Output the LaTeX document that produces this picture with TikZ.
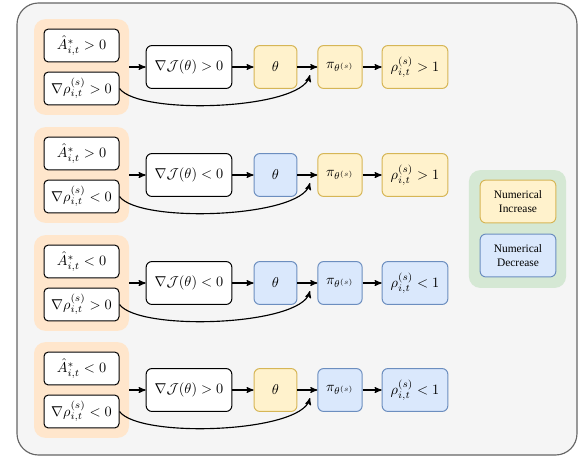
\documentclass[tikz,border=0pt]{standalone}
\usepackage{amssymb,amsmath}
\usepackage{fontspec}
\usepackage{tikz}
\usetikzlibrary{arrows,shapes}
\newfontfamily\legendfont{Liberation Serif}
\definecolor{outerfill}{HTML}{F5F5F5}
\definecolor{outerline}{HTML}{666666}
\definecolor{grpfill}{HTML}{FFE6CC}
\definecolor{incfill}{HTML}{FFF2CC}
\definecolor{incline}{HTML}{D6B656}
\definecolor{decfill}{HTML}{DAE8FC}
\definecolor{decline}{HTML}{6C8EBF}
\definecolor{legfill}{HTML}{D5E8D4}
\tikzstyle{group}=[rounded corners=8pt,fill=grpfill,minimum width=66.5pt,minimum height=67pt,inner sep=0pt]
\tikzstyle{cond}=[draw,rounded corners=3pt,fill=white,line width=0.7pt,minimum width=52.5pt,minimum height=23pt,inner sep=0pt]
\tikzstyle{grad}=[draw,rounded corners=4pt,fill=white,line width=0.7pt,minimum width=60pt,minimum height=30pt,inner sep=0pt]
\tikzstyle{inc}=[draw=incline,fill=incfill,rounded corners=4pt,line width=0.7pt,minimum height=30pt,inner sep=0pt]
\tikzstyle{dec}=[draw=decline,fill=decfill,rounded corners=4pt,line width=0.7pt,minimum height=30pt,inner sep=0pt]
\tikzstyle{edge} = [draw,line width=0.8pt,-stealth']

\begin{document}
\begin{tikzpicture}[x=0.7pt,y=-0.7pt]
        \useasboundingbox (0,0) rectangle (581,460);
        \filldraw[fill=outerfill,draw=outerline,line width=0.8pt,rounded corners=15pt] (17,3) rectangle (577,455);
        % row 1
        \node[group] (grp1) at (81.5,67) {};
        \node[cond] (A1) at (81.5,45.5) {$\hat{A}^{*}_{i,t}>0$};
        \node[cond] (rho1) at (81.5,88.5) {$\nabla\rho^{(s)}_{i,t}>0$};
        \node[grad] (J1) at (189,67) {$\nabla\mathcal{J}(\theta)>0$};
        \node[inc,minimum width=30pt] (theta1) at (275.5,67) {$\theta$};
        \node[inc,minimum width=31pt] (pi1) at (340,67) {$\pi_{\theta^{(s)}}$};
        \node[inc,minimum width=46pt] (ratio1) at (415,67) {$\rho^{(s)}_{i,t}>1$};
        \coordinate (m1) at (310,75);
        % row 2
        \node[group] (grp2) at (81.5,175) {};
        \node[cond] (A2) at (81.5,153.5) {$\hat{A}^{*}_{i,t}>0$};
        \node[cond] (rho2) at (81.5,196.5) {$\nabla\rho^{(s)}_{i,t}<0$};
        \node[grad] (J2) at (189,175) {$\nabla\mathcal{J}(\theta)<0$};
        \node[dec,minimum width=30pt] (theta2) at (275.5,175) {$\theta$};
        \node[inc,minimum width=31pt] (pi2) at (340,175) {$\pi_{\theta^{(s)}}$};
        \node[inc,minimum width=46pt] (ratio2) at (415,175) {$\rho^{(s)}_{i,t}>1$};
        \coordinate (m2) at (310,183);
        % row 3
        \node[group] (grp3) at (81.5,283) {};
        \node[cond] (A3) at (81.5,261.5) {$\hat{A}^{*}_{i,t}<0$};
        \node[cond] (rho3) at (81.5,304.5) {$\nabla\rho^{(s)}_{i,t}>0$};
        \node[grad] (J3) at (189,283) {$\nabla\mathcal{J}(\theta)<0$};
        \node[dec,minimum width=30pt] (theta3) at (275.5,283) {$\theta$};
        \node[dec,minimum width=31pt] (pi3) at (340,283) {$\pi_{\theta^{(s)}}$};
        \node[dec,minimum width=46pt] (ratio3) at (415,283) {$\rho^{(s)}_{i,t}<1$};
        \coordinate (m3) at (310,291);
        % row 4
        \node[group] (grp4) at (81.5,390) {};
        \node[cond] (A4) at (81.5,368.5) {$\hat{A}^{*}_{i,t}<0$};
        \node[cond] (rho4) at (81.5,411.5) {$\nabla\rho^{(s)}_{i,t}<0$};
        \node[grad] (J4) at (189,390) {$\nabla\mathcal{J}(\theta)>0$};
        \node[inc,minimum width=30pt] (theta4) at (275.5,390) {$\theta$};
        \node[dec,minimum width=31pt] (pi4) at (340,390) {$\pi_{\theta^{(s)}}$};
        \node[dec,minimum width=46pt] (ratio4) at (415,390) {$\rho^{(s)}_{i,t}<1$};
        \coordinate (m4) at (310,398);
        % legend
        \node[fill=legfill,rounded corners=8pt,minimum width=68pt,minimum height=82.5pt] (legend) at (517.5,229) {};
        \node[inc,minimum width=53pt,align=center,font=\legendfont\footnotesize] (incr) at (518,201.5) {Numerical\\Increase};
        \node[dec,minimum width=53pt,align=center,font=\legendfont\footnotesize] (decr) at (518,255.5) {Numerical\\Decrease};
        % edges
        \draw[edge] (grp1) to (J1);
        \draw[edge] (J1) to (theta1);
        \draw[edge] (theta1) to (pi1);
        \draw[edge] (pi1) to (ratio1);
        \draw[edge] (rho1.east) .. controls +(20,27) and +(-10,35) .. (m1);
        \draw[edge] (grp2) to (J2);
        \draw[edge] (J2) to (theta2);
        \draw[edge] (theta2) to (pi2);
        \draw[edge] (pi2) to (ratio2);
        \draw[edge] (rho2.east) .. controls +(20,27) and +(-10,35) .. (m2);
        \draw[edge] (grp3) to (J3);
        \draw[edge] (J3) to (theta3);
        \draw[edge] (theta3) to (pi3);
        \draw[edge] (pi3) to (ratio3);
        \draw[edge] (rho3.east) .. controls +(20,27) and +(-10,35) .. (m3);
        \draw[edge] (grp4) to (J4);
        \draw[edge] (J4) to (theta4);
        \draw[edge] (theta4) to (pi4);
        \draw[edge] (pi4) to (ratio4);
        \draw[edge] (rho4.east) .. controls +(20,27) and +(-10,35) .. (m4);
      \end{tikzpicture}
\end{document}
